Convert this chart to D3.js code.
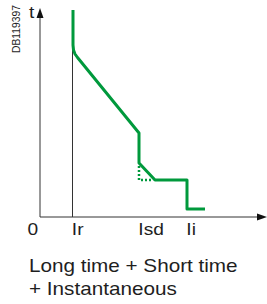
<!DOCTYPE html>
<html><head><meta charset="utf-8">
<script src="https://cdn.jsdelivr.net/npm/d3@7"></script>
<style>body{margin:0;background:#fff}svg{display:block}text{font-family:"Liberation Sans",Arial,sans-serif;fill:#1e1e1e}</style>
</head><body><svg id="c" width="267" height="304"></svg>
<script>
// data units: current (x) and time (y), arbitrary
const tickLabels = ["0", "Ir", "Isd", "Ii"];
const tickValues = [0, 32.5, 99, 147];
// trip curve (current, time)
const curveX = [33, 33, 33.5, 35, 37.5, 99, 99, 115, 147, 147, 165];
const curveY = [207, 172, 167, 163, 159.5, 84, 54, 37, 37, 8, 8];
// dotted alternative corner
const dotX = [99, 99, 113];
const dotY = [51, 37, 37];
const caption = ["Long time + Short time", "+ Instantaneous"];
const docRef = "DB119397";

const svg = d3.select("#c");
const x = d3.scaleLinear().domain([0, 227]).range([40, 267]);
const y = d3.scaleLinear().domain([0, 209]).range([217, 8]);
const green = "#00993c", axisCol = "#333";
const SX = 1.13;

// Ir guide line
svg.append("line").attr("x1", x(tickValues[1])).attr("x2", x(tickValues[1]))
  .attr("y1", y(curveY[0])).attr("y2", y(0)).attr("stroke", axisCol).attr("stroke-width", 1);

// axes lines with arrows
svg.append("line").attr("x1", x(0)).attr("x2", x(0)).attr("y1", y(0)).attr("y2", y(199))
  .attr("stroke", axisCol).attr("stroke-width", 1);
svg.append("path").attr("d", `M${x(0)},${y(209)}L${x(0)-3.5},${y(199)}L${x(0)+3.5},${y(199)}Z`).attr("fill", "#111");
svg.append("line").attr("x1", x(0)).attr("x2", x(217)).attr("y1", y(0)).attr("y2", y(0))
  .attr("stroke", axisCol).attr("stroke-width", 1);
svg.append("path").attr("d", `M${x(227)},${y(0)}L${x(217)},${y(0)-3.5}L${x(217)},${y(0)+3.5}Z`).attr("fill", "#111");

// axis labels via d3 axis
const ax = svg.append("g").attr("transform", `translate(0,${y(0)})`)
  .call(d3.axisBottom(x).tickValues(tickValues).tickSize(0).tickFormat((d, i) => tickLabels[i]));
ax.select(".domain").remove();
ax.selectAll("text").attr("y", 18.5).attr("dy", 0).attr("font-size", 17)
  .attr("font-family", '"Liberation Sans",Arial,sans-serif').attr("fill", "#1e1e1e")
  .attr("text-anchor", (d, i) => i === 0 ? "end" : "start")
  .attr("x", (d, i) => i === 0 ? -2 : -1)
  .attr("transform", `scale(${SX},1)`);

// t label
svg.append("text").attr("transform", `translate(29,18) scale(${SX},1)`).attr("font-size", 17).text("t");

// doc ref
svg.append("text").attr("transform", "translate(20,53) rotate(-90)").attr("font-size", 10.3).text(docRef);

// trip curve
const line = d3.line().x(d => x(d[0])).y(d => y(d[1]));
svg.append("path").datum(curveX.map((v, i) => [v, curveY[i]])).attr("d", line)
  .attr("fill", "none").attr("stroke", green).attr("stroke-width", 3).attr("stroke-linejoin", "round");
svg.append("path").datum(dotX.map((v, i) => [v, dotY[i]])).attr("d", line)
  .attr("fill", "none").attr("stroke", green).attr("stroke-width", 2.5).attr("stroke-dasharray", "2,2");

// caption
caption.forEach((t, i) => {
  svg.append("text").attr("transform", `translate(29,${272 + i * 23}) scale(1.15,1)`)
    .attr("font-size", 18).text(t);
});
</script></body></html>
